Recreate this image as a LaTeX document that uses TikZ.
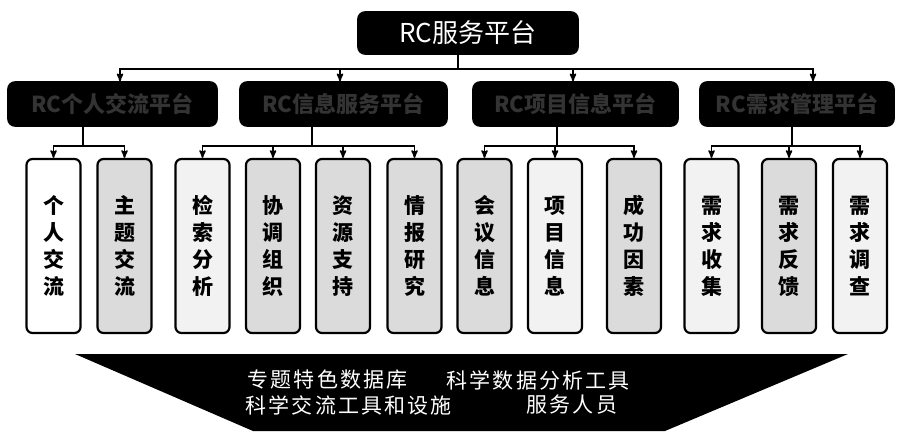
\documentclass[tikz,border=0pt]{standalone}
\usepackage{fontspec}
\setmainfont{Noto Sans CJK SC}
\newfontfamily\resfont[LetterSpace=10]{Noto Sans CJK SC}
\usetikzlibrary{arrows,shapes}

\begin{document}
\begin{tikzpicture}[x=1pt,y=-1pt,->,>=stealth',line width=1.6pt]
\tikzstyle{topbox}=[draw=black,fill=black,rounded corners=7pt,text=white,minimum width=220pt,minimum height=42pt,inner sep=0pt,font=\fontsize{26}{28}\selectfont]
\tikzstyle{platform}=[draw=black,fill=black,rounded corners=7pt,text=gray!40!black,minimum height=44pt,inner sep=0pt,font=\fontsize{22}{24}\selectfont\bfseries]
\tikzstyle{leaf}=[draw=black,line width=2.2pt,rounded corners=6pt,minimum width=54pt,minimum height=174pt,inner sep=0pt,align=center,font=\fontsize{21}{27}\selectfont\bfseries]
\tikzstyle{light}=[leaf,fill=gray!10]
\tikzstyle{shaded}=[leaf,fill=gray!28]
\tikzstyle{res}=[text=white,anchor=west,inner sep=0pt,font=\fontsize{21}{23}\selectfont\resfont]
\useasboundingbox (0,0) rectangle (899,431);

\node[topbox] (rc) at (468,33) {RC服务平台};

\node[platform,minimum width=209pt] (h1) at (112.5,104) {RC个人交流平台};
\node[platform,minimum width=207pt] (h2) at (343.5,104) {RC信息服务平台};
\node[platform,minimum width=205pt] (h3) at (575.5,104) {RC项目信息平台};
\node[platform,minimum width=194pt] (h4) at (797,104) {RC需求管理平台};

\node[leaf,fill=white] (l1) at (53.5,246) {个\\人\\交\\流};
\node[shaded] (l2) at (124.5,246) {主\\题\\交\\流};
\node[light] (l3) at (202.5,246) {检\\索\\分\\析};
\node[shaded] (l4) at (273,246) {协\\调\\组\\织};
\node[shaded] (l5) at (343,246) {资\\源\\支\\持};
\node[shaded] (l6) at (414.5,246) {情\\报\\研\\究};
\node[shaded] (l7) at (484.5,246) {会\\议\\信\\息};
\node[light] (l8) at (555,246) {项\\目\\信\\息};
\node[shaded] (l9) at (634,246) {成\\功\\因\\素};
\node[light] (l10) at (711.5,246) {需\\求\\收\\集};
\node[shaded] (l11) at (789,246) {需\\求\\反\\馈};
\node[light] (l12) at (860,246) {需\\求\\调\\查};

% top level
\draw ([xshift=-10pt]rc.south) -- ++(0,14) -| ([xshift=7.5pt]h1.north);
\draw ([xshift=-10pt]rc.south) -- ++(0,14) -| ([xshift=-3.5pt]h2.north);
\draw ([xshift=-10pt]rc.south) -- ++(0,14) -| ([xshift=-2.5pt]h3.north);
\draw ([xshift=-10pt]rc.south) -- ++(0,14) -| ([xshift=16pt]h4.north);

% platforms to services
\draw ([xshift=-29.5pt]h1.south) -- ++(0,19) -| (l1.north);
\draw ([xshift=-29.5pt]h1.south) -- ++(0,19) -| (l2.north);
\draw ([xshift=-31.5pt]h2.south) -- ++(0,19) -| (l3.north);
\draw ([xshift=-31.5pt]h2.south) -- ++(0,19) -| (l4.north);
\draw ([xshift=-31.5pt]h2.south) -- ++(0,19) -| (l5.north);
\draw ([xshift=-31.5pt]h2.south) -- ++(0,19) -| (l6.north);
\draw ([xshift=-18.5pt]h3.south) -- ++(0,19) -| (l7.north);
\draw ([xshift=-18.5pt]h3.south) -- ++(0,19) -| (l8.north);
\draw ([xshift=-18.5pt]h3.south) -- ++(0,19) -| (l9.north);
\draw ([xshift=-5pt]h4.south) -- ++(0,19) -| (l10.north);
\draw ([xshift=-5pt]h4.south) -- ++(0,19) -| (l11.north);
\draw ([xshift=-5pt]h4.south) -- ++(0,19) -| (l12.north);

% resources
\fill[-,black] (75,354) -- (848,354) -- (665,431) -- (253,431) -- cycle;
\node[res] (db) at (247,380) {专题特色数据库};
\node[res] (tools) at (446,380) {科学数据分析工具};
\node[res] (comm) at (245,405) {科学交流工具和设施};
\node[res] (staff) at (526,405) {服务人员};
\end{tikzpicture}
\end{document}
